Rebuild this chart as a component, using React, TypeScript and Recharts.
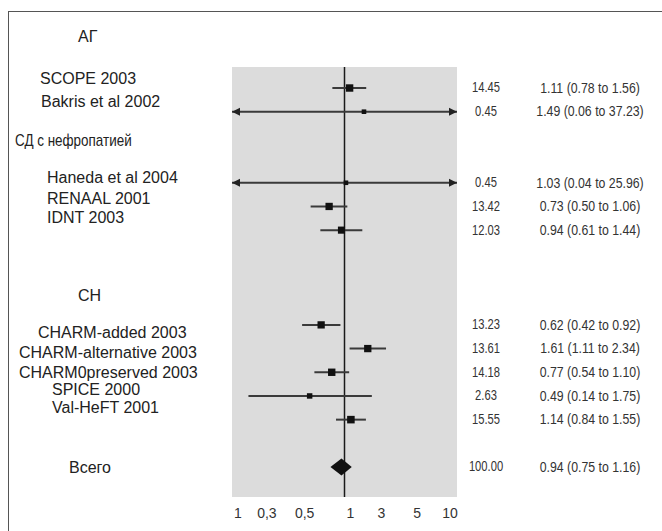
import { ScatterChart, Scatter, XAxis, YAxis, CartesianGrid, ReferenceLine } from "recharts"

document.body.style.margin = "0"
document.body.style.overflow = "hidden"

// group headings
const groups = ["АГ", "СД с нефропатией", "СН"]

// studies: weight (%), odds ratio and 95% CI
const studies = [
  "SCOPE 2003",
  "Bakris et al 2002",
  "Haneda et al 2004",
  "RENAAL 2001",
  "IDNT 2003",
  "CHARM-added 2003",
  "CHARM-alternative 2003",
  "CHARM0preserved 2003",
  "SPICE 2000",
  "Val-HeFT 2001"
]
const weights = [14.45, 0.45, 0.45, 13.42, 12.03, 13.23, 13.61, 14.18, 2.63, 15.55]
const ratios = [1.11, 1.49, 1.03, 0.73, 0.94, 0.62, 1.61, 0.77, 0.49, 1.14]
const lower = [0.78, 0.06, 0.04, 0.5, 0.61, 0.42, 1.11, 0.54, 0.14, 0.84]
const upper = [1.56, 37.23, 25.96, 1.06, 1.44, 0.92, 2.34, 1.1, 1.75, 1.55]

// pooled result
const totalLabel = "Всего"
const totalWeight = 100.0
const totalRatio = 0.94
const totalLower = 0.75
const totalUpper = 1.16

// log axis ticks and the labels printed under them
const xTicks = [0.1, 0.2, 0.5, 1, 2, 5, 10]
const xTickLabels = ["1", "0,3", "0,5", "1", "3", "5", "10"]
const innerTicks = [0.2, 0.5, 2, 5]

// row slots, counted from the top of the plot
const groupRows = [-2, 2, 9]
const studyRows = [0, 1, 4, 5, 6, 10, 11, 12, 13, 14]
const totalRow = 16

// text layout for the left column (left edge, vertical nudge, horizontal squeeze)
const groupX = [78, 15, 78]
const groupDy = [-4, 5, -6]
const groupScale = [1, 0.84, 1]
const studyX = [40, 41, 47, 47, 47, 38, 19, 19, 52, 52]
const studyDy = [-10, -10, -5, -8, -13, 8, 4, 0, -6, -12]
const totalX = 69
// the printed tick labels sit a little off their ticks
const xTickDx = [6, 1, -6, 6, 3, -6, -7]

const X_MIN = 0.1
const X_MAX = 10
const FONT = "'Liberation Sans', Arial, sans-serif"

const points = studies.map((name, i) => ({ x: ratios[i], y: studyRows[i], w: weights[i], name }))
const diamondPoints = [totalLower, totalRatio, totalUpper].map(x => ({ x, y: totalRow }))

const leftLabels = new Map<number, { text: string; x: number; dy: number; k: number }>()
groups.forEach((g, i) => leftLabels.set(groupRows[i], { text: g, x: groupX[i], dy: groupDy[i], k: groupScale[i] }))
studies.forEach((s, i) => leftLabels.set(studyRows[i], { text: s, x: studyX[i], dy: studyDy[i], k: 1 }))
leftLabels.set(totalRow, { text: totalLabel, x: totalX, dy: 0, k: 1 })

const fmtCI = (r: number, lo: number, hi: number) =>
  `${r.toFixed(2)} (${lo.toFixed(2)} to ${hi.toFixed(2)})`

const rightLabels = new Map<number, { w: string; ci: string }>()
studies.forEach((_, i) =>
  rightLabels.set(studyRows[i], { w: weights[i].toFixed(2), ci: fmtCI(ratios[i], lower[i], upper[i]) })
)
rightLabels.set(totalRow, { w: totalWeight.toFixed(2), ci: fmtCI(totalRatio, totalLower, totalUpper) })

const LeftTick = ({ y, payload }: any) => {
  const item = leftLabels.get(payload.value)
  if (!item) return null
  return (
    <text
      transform={`translate(${item.x},${y + item.dy}) scale(${item.k},1)`}
      dominantBaseline="central"
      fontSize={16}
      fill="#222"
      fontFamily={FONT}
    >
      {item.text}
    </text>
  )
}

const RightTick = ({ y, payload }: any) => {
  const item = rightLabels.get(payload.value)
  if (!item) return null
  return (
    <g fill="#333" fontSize={14} fontFamily={FONT}>
      <text transform={`translate(486,${y}) scale(0.8,1)`} textAnchor="middle" dominantBaseline="central">
        {item.w}
      </text>
      <text transform={`translate(590,${y}) scale(0.88,1)`} textAnchor="middle" dominantBaseline="central">
        {item.ci}
      </text>
    </g>
  )
}

const BottomTick = ({ x, y, payload }: any) => {
  const i = xTicks.indexOf(payload.value)
  return (
    <text x={x + (xTickDx[i] ?? 0)} y={y} dy="0.71em" textAnchor="middle" fontSize={14} fill="#333" fontFamily={FONT}>
      {xTickLabels[i]}
    </text>
  )
}

const Square = ({ cx, cy, payload }: any) => {
  const s = 4 + 0.9 * Math.sqrt(payload.w)
  return <rect x={cx - s / 2} y={cy - s / 2} width={s} height={s} fill="#111" />
}

const Diamond = ({ points }: any) => {
  if (!points || points.length < 3) return null
  const [l, m, r] = points
  const h = 8.5
  return (
    <polygon
      points={`${l.x},${l.y} ${m.x},${m.y - h} ${r.x},${r.y} ${m.x},${m.y + h}`}
      fill="#111"
    />
  )
}

// CI line, with arrow heads where the interval runs off the axis
const ciShape = (leftArrow: boolean, rightArrow: boolean) => (p: any) => {
  const { x1, y1, x2 } = p
  const a = 8
  const b = 4
  return (
    <g>
      <line x1={x1} y1={y1} x2={x2} y2={y1} stroke="#3a3a3a" strokeWidth={2} />
      {leftArrow && <polygon points={`${x1},${y1} ${x1 + a},${y1 - b} ${x1 + a},${y1 + b}`} fill="#222" />}
      {rightArrow && <polygon points={`${x2},${y1} ${x2 - a},${y1 - b} ${x2 - a},${y1 + b}`} fill="#222" />}
    </g>
  )
}

const leftTicks = [...groupRows, ...studyRows, totalRow]
const rightTicks = [...studyRows, totalRow]
const yDomain = [-0.887, 17.266]

export default function App() {
  return (
    <div style={{ position: "relative", width: 662, height: 531, overflow: "hidden", background: "#fff" }}>
      <div
        style={{
          position: "absolute",
          left: 8,
          top: 11,
          width: 700,
          height: 600,
          borderTop: "1px solid #555",
          borderLeft: "1px solid #555"
        }}
      />
      <div style={{ position: "absolute", left: 0, top: 0 }}>
        <ScatterChart width={662} height={531} margin={{ top: 67, right: 0, bottom: 0, left: 0 }}>
          <CartesianGrid fill="#dcdcdc" stroke="none" horizontal={false} vertical={false} />
          <XAxis
            type="number"
            dataKey="x"
            scale="log"
            domain={[X_MIN, X_MAX]}
            allowDataOverflow
            ticks={xTicks}
            interval={0}
            axisLine={false}
            tickLine={false}
            tickSize={9}
            height={34}
            tick={BottomTick}
          />
          <XAxis
            xAxisId="marks"
            type="number"
            dataKey="x"
            scale="log"
            domain={[X_MIN, X_MAX]}
            allowDataOverflow
            ticks={innerTicks}
            interval={0}
            mirror
            tick={false}
            axisLine={false}
            tickLine={{ stroke: "#f2f2f2", strokeWidth: 1.5 }}
            tickSize={12}
          />
          <YAxis
            type="number"
            dataKey="y"
            domain={yDomain}
            allowDataOverflow
            reversed
            ticks={leftTicks}
            interval={0}
            width={232}
            axisLine={false}
            tickLine={false}
            tick={LeftTick}
          />
          <YAxis
            yAxisId="right"
            orientation="right"
            type="number"
            dataKey="y"
            domain={yDomain}
            allowDataOverflow
            reversed
            ticks={rightTicks}
            interval={0}
            width={205}
            axisLine={false}
            tickLine={false}
            tick={RightTick}
          />
          <ReferenceLine x={1} stroke="#1a1a1a" strokeWidth={1.5} ifOverflow="visible" />
          {studies.map((name, i) => (
            <ReferenceLine
              key={name}
              ifOverflow="visible"
              segment={[
                { x: Math.max(lower[i], X_MIN), y: studyRows[i] },
                { x: Math.min(upper[i], X_MAX), y: studyRows[i] }
              ]}
              shape={ciShape(lower[i] < X_MIN, upper[i] > X_MAX)}
            />
          ))}
          <Scatter data={points} shape={Square} isAnimationActive={false} />
          <Scatter
            data={diamondPoints}
            shape={() => <g />}
            line={Diamond}
            lineType="joint"
            isAnimationActive={false}
          />
        </ScatterChart>
      </div>
    </div>
  )
}
